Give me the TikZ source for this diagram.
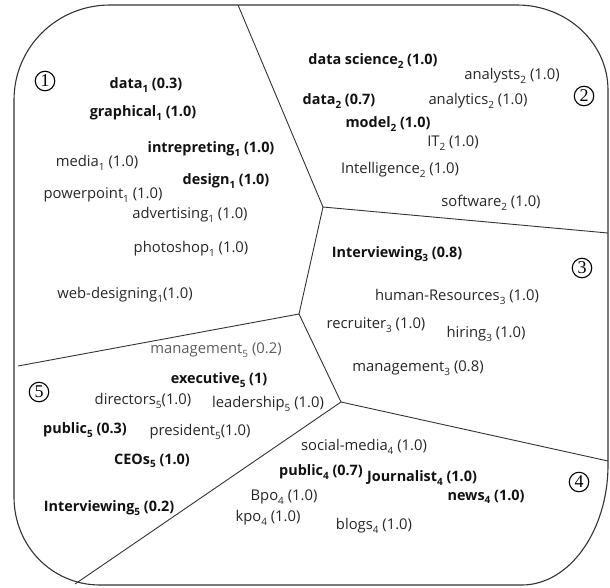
\documentclass[tikz,border=0pt]{standalone}
\usepackage{fontspec}
\setmainfont{Open Sans}
\newfontfamily\numfont{Liberation Serif}
\newcommand\ssub[1]{\raisebox{-0.45ex}{\fontsize{10}{10}\selectfont #1}}
\definecolor{txtgray}{HTML}{262626}
\definecolor{boldblk}{HTML}{111111}
\definecolor{lightgray}{HTML}{5C5C5C}
\definecolor{linecol}{HTML}{333333}
\begin{document}
\begin{tikzpicture}[x=1pt,y=-1pt,
  reg/.style={font=\fontsize{14.8}{14.8}\selectfont, text=txtgray, inner sep=0pt},
  bld/.style={font=\fontsize{14.4}{14.4}\selectfont\bfseries, text=boldblk, inner sep=0pt},
  lite/.style={font=\fontsize{14.8}{14.8}\selectfont, text=lightgray, inner sep=0pt},
  num/.style={circle, draw=black, line width=1.1pt, minimum size=19.5pt, inner sep=0pt, font=\numfont\fontsize{18}{18}\selectfont},
  border/.style={draw=linecol, line width=1.1pt},
  part/.style={draw=linecol, line width=0.9pt}]
\useasboundingbox (0,0) rectangle (610,587);
% outline
\draw[border] (14,100) .. controls (14,47) and (57,5) .. (110,5)
  -- (517,5) .. controls (567,5) and (608,43) .. (608,90)
  -- (608,465) .. controls (608,531) and (569,585) .. (522,585)
  -- (100,585) .. controls (52,585) and (14,546) .. (14,497) -- cycle;
% partition coordinates
\coordinate (tA) at (238,5);
\coordinate (j1) at (323,207);
\coordinate (rB) at (608,233);
\coordinate (j2) at (299,314);
\coordinate (lD) at (18,366);
\coordinate (j3) at (341,402);
\coordinate (rF) at (608,461);
\coordinate (bG) at (75,584);
\draw[part] (tA) -- (j1) -- (rB);
\draw[part] (j1) -- (j2) -- (lD);
\draw[part] (j2) -- (j3) -- (rF);
\draw[part] (j3) -- (bG);
% circled numbers
\node[num] (n1) at (45,81) {1};
\node[num] (n2) at (584,96) {2};
\node[num] (n3) at (582,268) {3};
\node[num] (n4) at (579,482) {4};
\node[num] (n5) at (39,392) {5};
% region 1
\node[bld] (a1) at (146,85) {data\ssub{1} (0.3)};
\node[bld] (a2) at (143,113) {graphical\ssub{1} (1.0)};
\node[bld] (a3) at (211,149) {intrepreting\ssub{1} (1.0)};
\node[reg] (a4) at (97,163) {media\ssub{1} (1.0)};
\node[bld] (a5) at (226,181) {design\ssub{1} (1.0)};
\node[reg] (a6) at (103,195) {powerpoint\ssub{1} (1.0)};
\node[reg] (a7) at (190,215) {advertising\ssub{1} (1.0)};
\node[reg] (a8) at (191,249) {photoshop\ssub{1} (1.0)};
\node[reg] (a9) at (125,295) {web-designing\ssub{1}(1.0)};
% region 2
\node[bld] (b1) at (373,61) {data science\ssub{2} (1.0)};
\node[reg] (b2) at (512,76) {analysts\ssub{2} (1.0)};
\node[bld] (b3) at (339,101) {data\ssub{2} (0.7)};
\node[reg] (b4) at (478,101) {analytics\ssub{2} (1.0)};
\node[bld] (b5) at (388,124) {model\ssub{2} (1.0)};
\node[reg] (b6) at (453,143) {IT\ssub{2} (1.0)};
\node[reg] (b7) at (400,170) {Intelligence\ssub{2} (1.0)};
\node[reg] (b8) at (491,203) {software\ssub{2} (1.0)};
% region 3
\node[bld] (c1) at (397,254) {Interviewing\ssub{3} (0.8)};
\node[reg] (c2) at (457,297) {human-Resources\ssub{3} (1.0)};
\node[reg] (c3) at (376,325) {recruiter\ssub{3} (1.0)};
\node[reg] (c4) at (486,334) {hiring\ssub{3} (1.0)};
\node[reg] (c5) at (418,368) {management\ssub{3} (0.8)};
% region 4
\node[reg] (d1) at (364,447) {social-media\ssub{4} (1.0)};
\node[bld] (d2) at (321,472) {public\ssub{4} (0.7)};
\node[bld] (d3) at (422,478) {Journalist\ssub{4} (1.0)};
\node[bld] (d4) at (486,497) {news\ssub{4} (1.0)};
\node[reg] (d5) at (284,497) {Bpo\ssub{4} (1.0)};
\node[reg] (d6) at (268,518) {kpo\ssub{4} (1.0)};
\node[reg] (d7) at (374,526) {blogs\ssub{4} (1.0)};
% region 5
\node[lite] (e1) at (216,350) {management\ssub{5} (0.2)};
\node[bld] (e2) at (219,380) {executive\ssub{5} (1)};
\node[reg] (e3) at (143,401) {directors\ssub{5}(1.0)};
\node[reg] (e4) at (268,404) {leadership\ssub{5} (1.0)};
\node[bld] (e5) at (85,430) {public\ssub{5} (0.3)};
\node[reg] (e6) at (200,432) {president\ssub{5}(1.0)};
\node[bld] (e7) at (152,461) {CEOs\ssub{5} (1.0)};
\node[bld] (e8) at (109,508) {Interviewing\ssub{5} (0.2)};
\end{tikzpicture}
\end{document}
